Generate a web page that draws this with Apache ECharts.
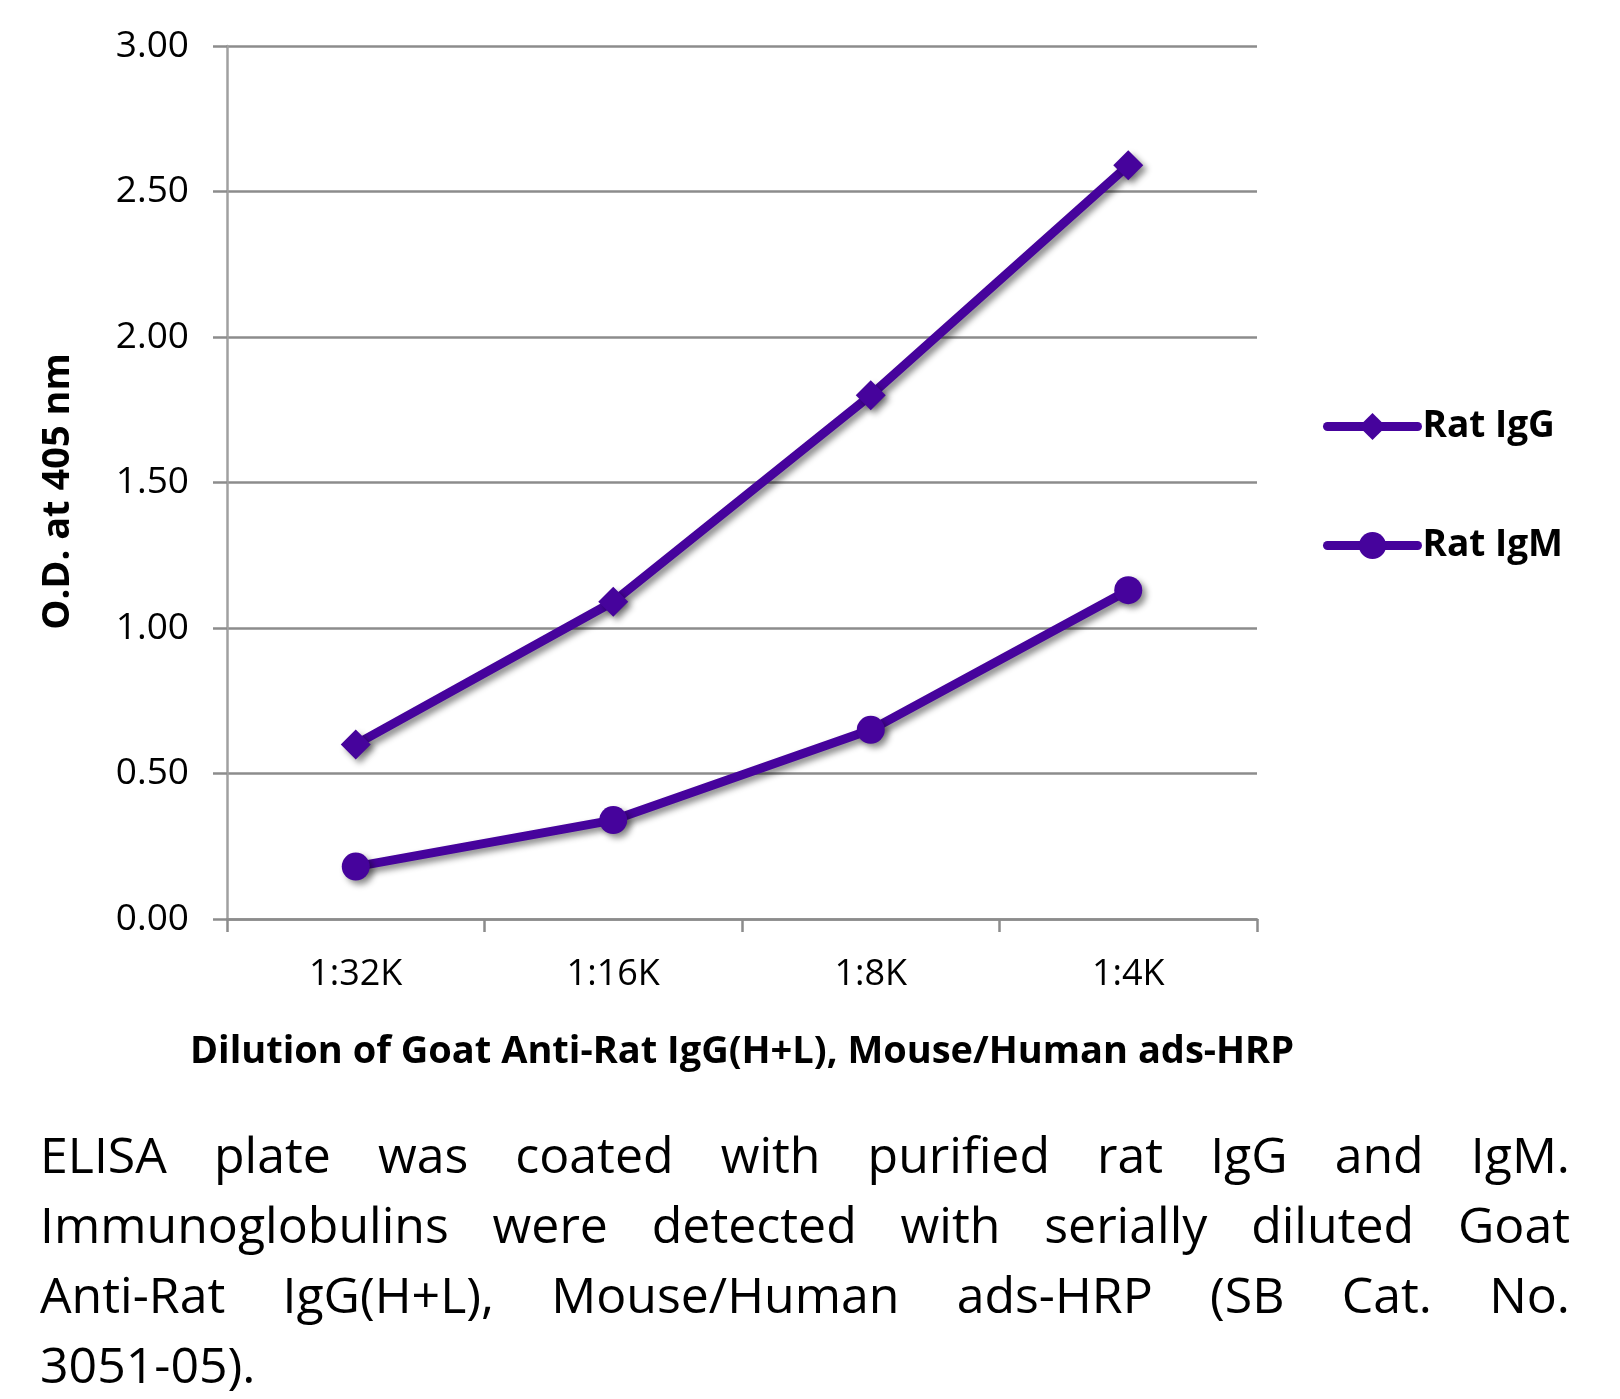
<!DOCTYPE html>
<html>
<head>
<meta charset="utf-8">
<script src="https://cdn.jsdelivr.net/npm/echarts@6/dist/echarts.min.js"></script>
<style>
  html, body { margin: 0; padding: 0; background: #fff; }
  #chart { position: absolute; left: 0; top: 0; width: 1620px; height: 1399px; }
  .caption { position: absolute; left: 40px; width: 1530px; top: 1119px;
    font-family: "Open Sans", sans-serif; font-size: 50px; color: #000; }
  .caption div { height: 70px; line-height: 70px; white-space: nowrap;
    text-align: justify; text-align-last: justify; }
  .caption div.last { text-align-last: left; }
</style>
</head>
<body>
<div id="chart"></div>
<div class="caption">
  <div>ELISA plate was coated with purified rat IgG and IgM.</div>
  <div>Immunoglobulins were detected with serially diluted Goat</div>
  <div>Anti-Rat IgG(H+L), Mouse/Human ads-HRP (SB Cat. No.</div>
  <div class="last">3051-05).</div>
</div>
<script>
const dilutions = ['1:32K', '1:16K', '1:8K', '1:4K']
const ratIgG = [0.60, 1.09, 1.80, 2.59]
const ratIgM = [0.18, 0.34, 0.65, 1.13]
const yTicks = { min: 0, max: 3, interval: 0.5 }

const purple = '#46039c'
const font = '"Open Sans", sans-serif'

const shadow = {
  shadowColor: 'rgba(0, 0, 0, 0.45)',
  shadowBlur: 6,
  shadowOffsetX: 4,
  shadowOffsetY: 4
}

const chart = echarts.init(document.getElementById('chart'))

const makeSeries = (name, data, symbol, size) => ({
  name: name,
  type: 'line',
  data: data,
  symbol: symbol,
  symbolSize: size,
  lineStyle: Object.assign({ color: purple, width: 9 }, shadow),
  itemStyle: Object.assign({ color: purple }, shadow),
  emphasis: { disabled: true }
})

chart.setOption({
  animation: false,
  textStyle: { fontFamily: font },
  grid: { left: 227, right: 363, top: 46, bottom: 480 },
  legend: {
    orient: 'vertical',
    left: 1318,
    top: 403,
    itemWidth: 90,
    itemHeight: 34,
    itemGap: 82,
    data: ['Rat IgG', 'Rat IgM'],
    lineStyle: { width: 9, cap: 'round', shadowBlur: 0, shadowOffsetX: 0, shadowOffsetY: 0 },
    itemStyle: { shadowBlur: 0, shadowOffsetX: 0, shadowOffsetY: 0 },
    textStyle: { fontFamily: font, fontSize: 37, fontWeight: 'bold', color: '#000' }
  },
  xAxis: {
    type: 'category',
    data: dilutions,
    boundaryGap: true,
    name: 'Dilution of Goat Anti-Rat IgG(H+L), Mouse/Human ads-HRP',
    nameLocation: 'middle',
    nameGap: 114,
    nameTextStyle: { fontFamily: font, fontSize: 38, fontWeight: 'bold', color: '#000' },
    axisLine: { lineStyle: { color: '#8c8c8c', width: 2.5 } },
    axisTick: { show: true, length: 13, lineStyle: { color: '#8c8c8c', width: 2.5 } },
    axisLabel: { fontFamily: font, fontSize: 36, color: '#000', margin: 38 }
  },
  yAxis: {
    type: 'value',
    min: yTicks.min,
    max: yTicks.max,
    interval: yTicks.interval,
    name: 'O.D. at 405 nm',
    nameLocation: 'middle',
    nameGap: 150,
    nameTextStyle: { fontFamily: font, fontSize: 38, fontWeight: 'bold', color: '#000', padding: [0, 18, 0, 0] },
    axisLine: { show: true, lineStyle: { color: '#a0a0a0', width: 2.5 } },
    axisTick: { show: true, length: 14, lineStyle: { color: '#8c8c8c', width: 2.5 } },
    splitLine: { lineStyle: { color: '#8c8c8c', width: 2.5 } },
    axisLabel: {
      fontFamily: font, fontSize: 37, color: '#000', margin: 38,
      formatter: v => v.toFixed(2)
    }
  },
  series: [
    makeSeries('Rat IgG', ratIgG, 'diamond', 30),
    makeSeries('Rat IgM', ratIgM, 'circle', 28)
  ]
})
</script>
</body>
</html>
